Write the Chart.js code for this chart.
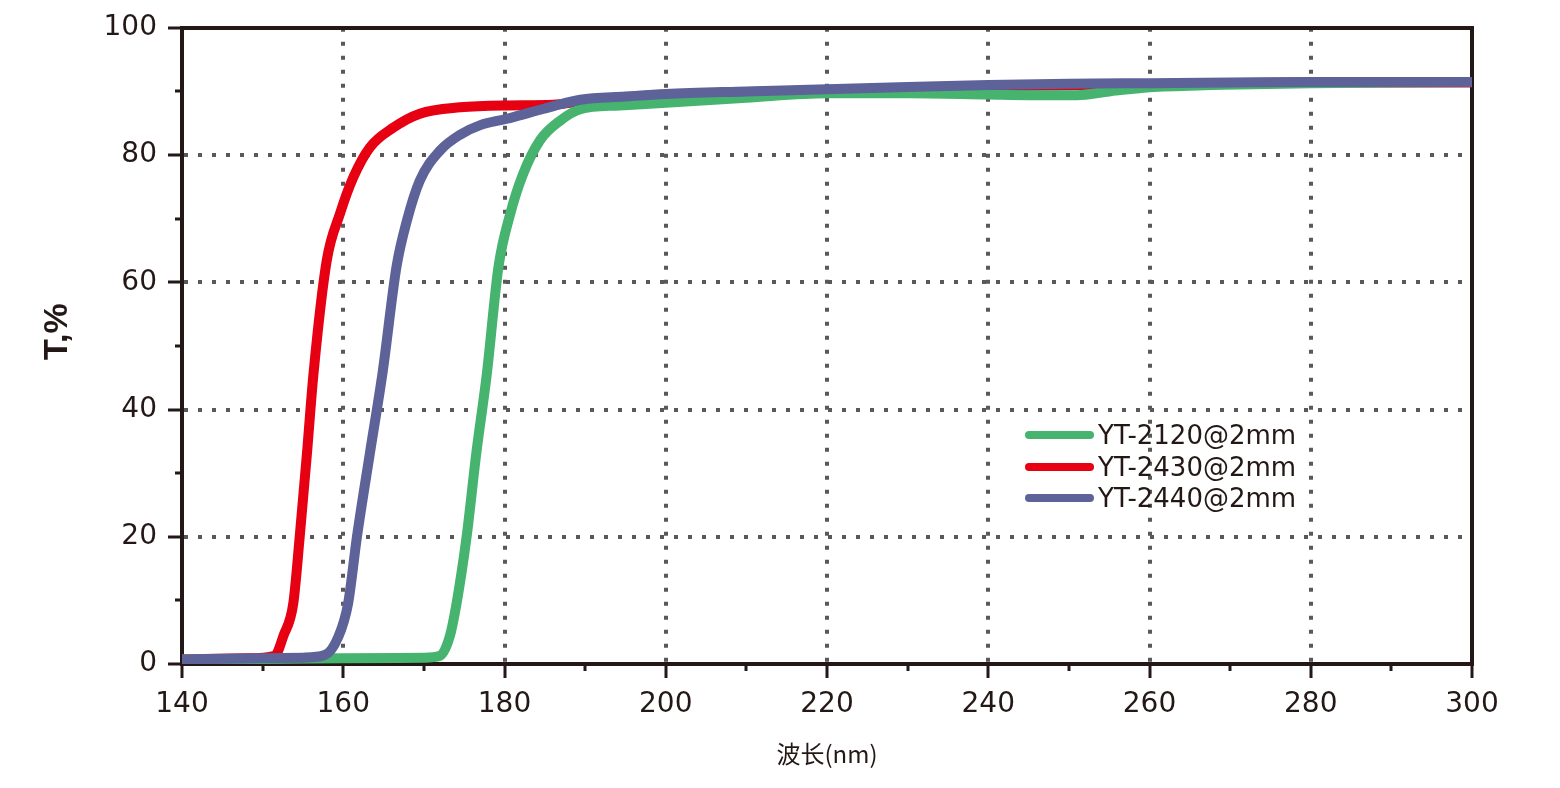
<!DOCTYPE html>
<html>
<head>
<meta charset="utf-8">
<script src="https://cdn.jsdelivr.net/npm/chart.js@4.4.1/dist/chart.umd.min.js"></script>
<style>
html,body{margin:0;padding:0;background:#fff;}
#wrap{position:relative;width:1560px;height:788px;overflow:hidden;}
canvas{display:block;}
#legend{position:absolute;left:1025px;top:419px;font-family:"DejaVu Sans",sans-serif;font-size:26px;color:#231815;line-height:1;}
.row{display:flex;align-items:center;height:31.7px;white-space:nowrap;}
.sw{width:69px;height:8px;border-radius:4px;margin-right:4px;flex:none;}
</style>
</head>
<body>
<div id="wrap">
<canvas id="c" width="1560" height="788"></canvas>
<div id="legend"></div>
</div>
<script>
// ---- data ----
const seriesNames = ['YT-2120@2mm', 'YT-2430@2mm', 'YT-2440@2mm'];
const seriesColors = ['#46b46f', '#e60012', '#5d6299'];

const wl2120 = [140, 150, 160, 170, 172, 173.2, 174.05, 175.3, 176.5, 177.8, 179.25, 180.7, 182.3, 184.4, 186.9, 189.4, 194.3, 200, 210, 220, 230, 240, 245, 251, 255, 260, 267.5, 280, 290, 300];
const t2120  = [0.7, 0.8, 0.9, 1.0, 1.3, 4.3, 9.5, 20, 33.1, 45.5, 62.4, 70.7, 77, 82.3, 85.4, 87.2, 87.8, 88.2, 89.0, 89.7, 89.7, 89.5, 89.4, 89.4, 90.0, 90.65, 91.0, 91.3, 91.4, 91.5];

const wl2430 = [140, 148, 151.5, 152.6, 153.8, 154.6, 155.5, 156.3, 157.95, 159.6, 161.25, 163.3, 166.2, 169.5, 174.5, 180.3, 186, 190, 200, 210, 220, 240, 260, 280, 300];
const t2430  = [0.7, 0.9, 1.3, 4.5, 9.5, 20, 33.1, 45.5, 63.4, 70.8, 76.5, 81.2, 84.3, 86.5, 87.5, 87.8, 87.9, 88.5, 89.4, 89.9, 90.2, 90.8, 91.1, 91.4, 91.4];

const wl2440 = [140, 150, 155, 157.7, 159.4, 160.6, 161.7, 163.3, 164.9, 166.6, 167.9, 169.5, 172, 174.5, 177, 180.3, 183.2, 186.1, 189.4, 195, 200, 210, 220, 230, 240, 250, 260, 270, 280, 290, 300];
const t2440  = [0.7, 0.9, 1.0, 1.4, 4.3, 9.5, 20, 33.1, 46, 62.4, 69.7, 76, 80.7, 83.2, 84.7, 85.7, 86.7, 87.7, 88.7, 89.2, 89.6, 90.0, 90.35, 90.7, 91.0, 91.2, 91.3, 91.4, 91.5, 91.5, 91.5];

const xMin = 140, xMax = 300, xStep = 10, xLabelStep = 20;
const yMin = 0, yMax = 100, yStep = 10, yLabelStep = 20;
const xTitle = '波长(nm)';
const yTitle = '   T,%';

// ---- build ----
const AXIS = '#231815', GRID = '#5a5858';
const toPts = (xs, ys) => xs.map((x, i) => ({x: x, y: ys[i]}));
const seriesX = [wl2120, wl2430, wl2440];
const seriesY = [t2120, t2430, t2440];
const drawOrder = [2, 3, 1];

const datasets = seriesNames.map((name, i) => ({
  label: name,
  data: toPts(seriesX[i], seriesY[i]),
  borderColor: seriesColors[i],
  backgroundColor: seriesColors[i],
  borderWidth: 10,
  pointRadius: 0,
  pointHoverRadius: 0,
  fill: false,
  cubicInterpolationMode: 'monotone',
  borderJoinStyle: 'round',
  order: drawOrder[i],
  xAxisID: 'x',
  yAxisID: 'y'
}));

const isMajor = (v, step) => Math.abs(v / step - Math.round(v / step)) < 1e-6;

const tickFont = {family: 'DejaVu Sans', size: 28};

new Chart(document.getElementById('c'), {
  type: 'line',
  data: {datasets: datasets},
  options: {
    responsive: false,
    animation: false,
    devicePixelRatio: 1,
    layout: {padding: 0},
    plugins: {legend: {display: false}, tooltip: {enabled: false}},
    scales: {
      x: {
        type: 'linear', position: 'bottom', min: xMin, max: xMax,
        ticks: {
          stepSize: xStep, autoSkip: false, maxRotation: 0, color: AXIS, font: tickFont, padding: 10,
          callback: v => isMajor(v, xLabelStep) ? String(v) : ''
        },
        grid: {
          color: c => (c.tick && isMajor(c.tick.value, xLabelStep) && c.tick.value > xMin && c.tick.value < xMax) ? GRID : 'rgba(0,0,0,0)',
          lineWidth: 4, tickLength: 14, tickWidth: 3, tickColor: AXIS,
          tickBorderDash: c => (c.tick && !isMajor(c.tick.value, xLabelStep)) ? [5, 100] : []
        },
        border: {display: true, color: AXIS, width: 4, dash: [4, 10]},
        title: {display: true, text: xTitle, color: AXIS, font: {family: 'Noto Sans CJK SC', size: 24}, padding: {top: 0, bottom: 20}},
        afterFit: s => { s.height = 124; }
      },
      xTop: {
        type: 'linear', position: 'top', min: xMin, max: xMax,
        ticks: {display: false}, grid: {display: false},
        border: {display: true, color: AXIS, width: 4},
        afterFit: s => { s.height = 27; }
      },
      y: {
        type: 'linear', position: 'left', min: yMin, max: yMax,
        ticks: {
          stepSize: yStep, autoSkip: false, color: AXIS, font: tickFont, padding: 11,
          callback: v => isMajor(v, yLabelStep) ? String(v) : ''
        },
        grid: {
          color: c => (c.tick && isMajor(c.tick.value, yLabelStep) && c.tick.value > yMin && c.tick.value < yMax) ? GRID : 'rgba(0,0,0,0)',
          lineWidth: 4, tickLength: 14, tickWidth: 3, tickColor: AXIS,
          tickBorderDash: c => (c.tick && !isMajor(c.tick.value, yLabelStep)) ? [0, 7, 5, 100] : []
        },
        border: {display: true, color: AXIS, width: 4, dash: [4, 10]},
        title: {display: true, text: yTitle, color: AXIS, font: {family: 'Liberation Sans', size: 34, weight: 'bold'}, padding: {top: 37, bottom: 0}},
        afterFit: s => { s.width = 182; }
      },
      yRight: {
        type: 'linear', position: 'right', min: yMin, max: yMax,
        ticks: {display: false}, grid: {display: false},
        border: {display: true, color: AXIS, width: 4},
        afterFit: s => { s.width = 88; }
      }
    }
  }
});

// ---- HTML legend ----
const legend = document.getElementById('legend');
seriesNames.forEach((name, i) => {
  const row = document.createElement('div');
  row.className = 'row';
  const sw = document.createElement('span');
  sw.className = 'sw';
  sw.style.background = seriesColors[i];
  const tx = document.createElement('span');
  tx.textContent = name;
  row.appendChild(sw);
  row.appendChild(tx);
  legend.appendChild(row);
});
</script>
</body>
</html>
